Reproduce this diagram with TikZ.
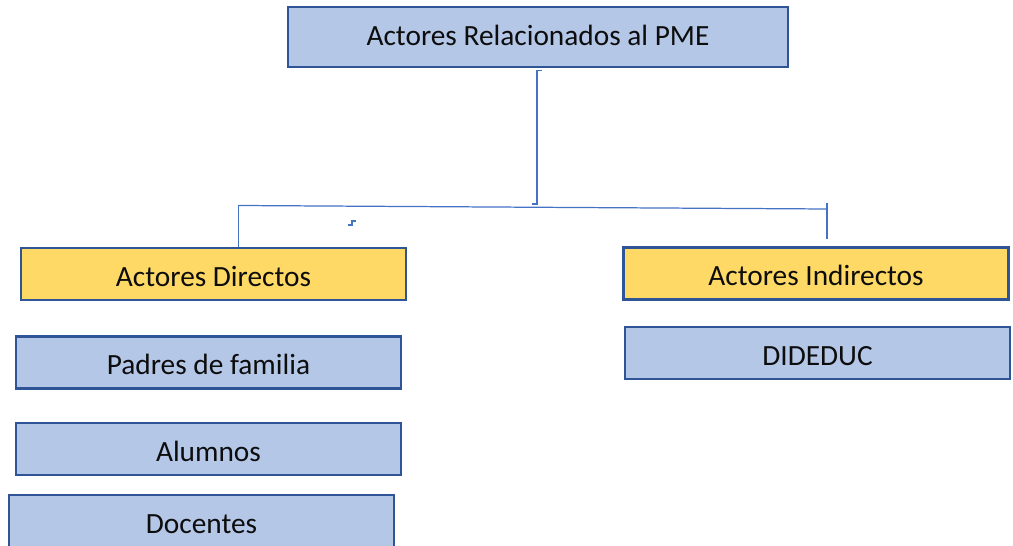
\documentclass[tikz,border=0pt]{standalone}
\usepackage{fontspec}
\setmainfont{Carlito}
\usepackage{tikz}
\usetikzlibrary{calc}

\definecolor{azulClaro}{HTML}{B4C7E7}
\definecolor{azulBorde}{HTML}{2F5597}
\definecolor{amarillo}{HTML}{FFD966}
\definecolor{azulLinea}{HTML}{4472C4}

\begin{document}
\begin{tikzpicture}[x=0.02cm,y=-0.02cm,
  caja/.style={draw=azulBorde,line width=1.4pt,fill=azulClaro,text=black!95,
    minimum width=7.7cm,minimum height=1.04cm,inner sep=0pt,
    text height=14pt,text depth=0pt,font=\fontsize{16.7}{20}\selectfont},
  cajaAmarilla/.style={caja,fill=amarillo},
  linea/.style={draw=azulLinea,line width=0.7pt}]
\useasboundingbox (0,0) rectangle (1013,546);
\def\anchoPME{10cm}
\node[caja,minimum width=\anchoPME,minimum height=1.2cm,text height=10pt] (pme) at (538,37) {Actores Relacionados al PME};
\node[cajaAmarilla] (directos) at (213.5,274) {Actores Directos};
\node[cajaAmarilla] (indirectos) at (816,273.5) {Actores Indirectos};
\node[caja] (padres) at (208.5,362.5) {Padres de familia};
\node[caja] (alumnos) at (208.5,449) {Alumnos};
\node[caja] (docentes) at (201.5,521) {Docentes};
\node[caja] (dideduc) at (817.5,353) {DIDEDUC};
\coordinate (arriba) at (537,70.5);
\coordinate (medio) at (537,204);
\coordinate (barraIzq) at (238.5,205.5);
\coordinate (barraDer) at (827,209);
\coordinate (finDer) at (827,239);
\draw[linea] ($(arriba)+(5,0)$) -- (arriba) -- (medio) -- ++(-5,0);
\draw[linea] (barraIzq) -- (barraDer);
\draw[linea] (barraIzq) -- (barraIzq |- directos.north);
\draw[linea] ($(barraDer)+(0,-6)$) -- (finDer);
\draw[linea] (348,225) -- (352,225) -- (352,221) -- (356,221);
\end{tikzpicture}
\end{document}
